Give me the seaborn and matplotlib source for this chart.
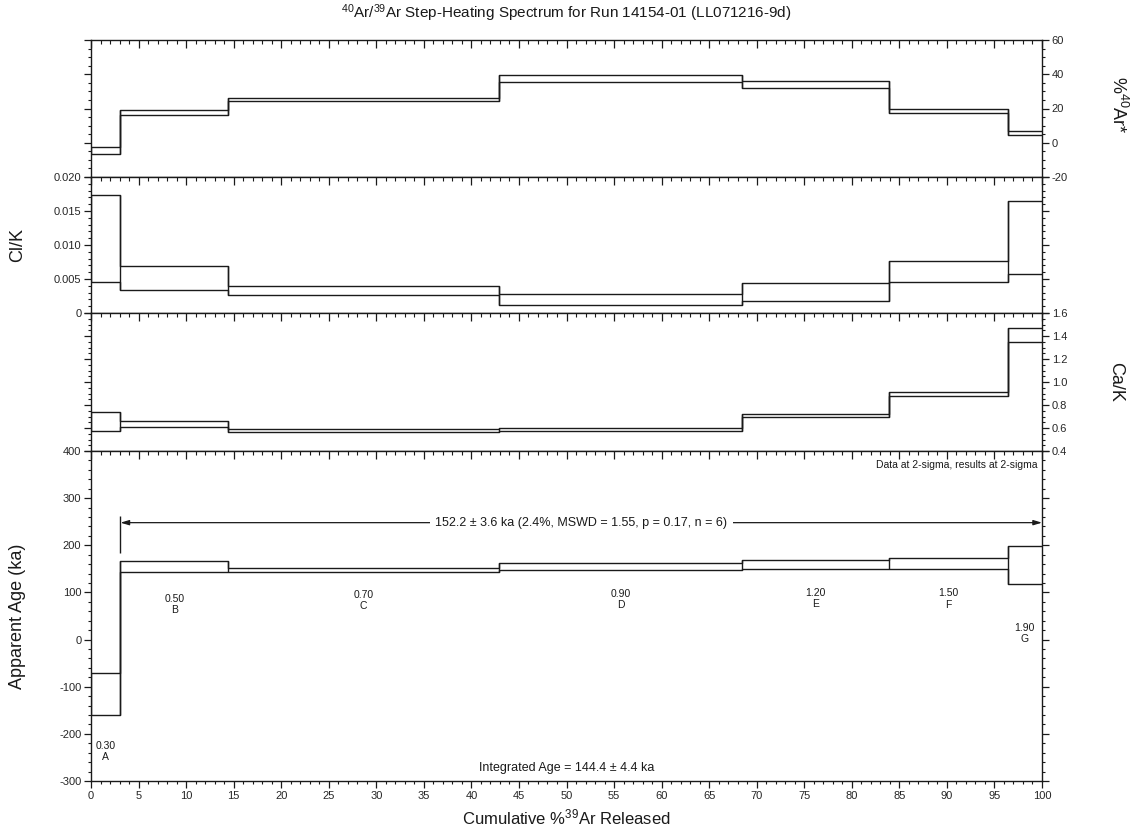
import numpy as np
import pandas as pd
import matplotlib
matplotlib.use("Agg")
import matplotlib.pyplot as plt
from matplotlib.ticker import MultipleLocator, FuncFormatter
import seaborn as sns

# ---------------- data ----------------
step_ids = ["A", "B", "C", "D", "E", "F", "G"]
step_power = ["0.30", "0.50", "0.70", "0.90", "1.20", "1.50", "1.90"]
cum_edges = [0.0, 3.1, 14.4, 42.9, 68.5, 83.9, 96.4, 100.0]

rad_hi = [-2.4, 18.9, 26.4, 39.8, 35.8, 19.6, 7.0]
rad_lo = [-6.3, 16.3, 24.2, 35.5, 32.2, 17.1, 4.3]

clk_hi = [0.0174, 0.00685, 0.00403, 0.00286, 0.00437, 0.00772, 0.0165]
clk_lo = [0.00455, 0.00335, 0.00267, 0.00117, 0.00170, 0.00456, 0.00568]

cak_hi = [0.737, 0.657, 0.590, 0.599, 0.725, 0.909, 1.468]
cak_lo = [0.578, 0.613, 0.566, 0.572, 0.693, 0.882, 1.350]

age_hi = [-70, 167, 152, 163, 168, 173, 198.5]
age_lo = [-161, 143, 143, 147, 149, 150, 117.6]

plateau_text = "152.2 \u00b1 3.6 ka (2.4%, MSWD = 1.55, p = 0.17, n = 6)"
integrated_text = "Integrated Age = 144.4 \u00b1 4.4 ka"
sigma_text = "Data at 2-sigma, results at 2-sigma"
title_text = r"$^{40}$Ar/$^{39}$Ar Step-Heating Spectrum for Run 14154-01 (LL071216-9d)"

# layout: how far (in ka) each step label sits below the step's lower edge
label_drop = [65, 56, 48, 50, 50, 52, 92]

# ---------------- style ----------------
sns.set_style("ticks")
plt.rcParams["font.family"] = ["Liberation Sans", "DejaVu Sans"]
plt.rcParams["mathtext.fontset"] = "custom"
plt.rcParams["mathtext.rm"] = "Liberation Sans"
plt.rcParams["mathtext.default"] = "regular"
plt.rcParams["axes.unicode_minus"] = False

LC = "#1a1a1a"
LW = 1.0

fig = plt.figure(figsize=(11.35, 8.31), dpi=100)
W, H = 1135.0, 831.0
xl, xr = 91.0, 1042.0


def rect(top, bot):
    return [xl / W, 1 - bot / H, (xr - xl) / W, (bot - top) / H]


ax_rad = fig.add_axes(rect(40, 177))
ax_clk = fig.add_axes(rect(177, 313))
ax_cak = fig.add_axes(rect(313, 451))
ax_age = fig.add_axes(rect(451, 781))


def draw_steps(ax, hi, lo):
    xs = list(cum_edges)
    for vals in (hi, lo):
        ys = list(vals) + [vals[-1]]
        sns.lineplot(x=xs, y=ys, ax=ax, drawstyle="steps-post", estimator=None,
                     sort=False, color=LC, lw=LW)
    vx, vmin, vmax = [xs[0]], [lo[0]], [hi[0]]
    for i in range(1, len(hi)):
        vx.append(xs[i])
        vmin.append(min(lo[i - 1], lo[i]))
        vmax.append(max(hi[i - 1], hi[i]))
    ax.vlines(vx, vmin, vmax, color=LC, lw=LW)


draw_steps(ax_rad, rad_hi, rad_lo)
draw_steps(ax_clk, clk_hi, clk_lo)
draw_steps(ax_cak, cak_hi, cak_lo)
draw_steps(ax_age, age_hi, age_lo)

ax_rad.set_ylim(-20, 60)
ax_clk.set_ylim(0, 0.020)
ax_cak.set_ylim(0.4, 1.6)
ax_age.set_ylim(-300, 400)

TICK_FS = 8
for ax in (ax_rad, ax_clk, ax_cak, ax_age):
    ax.set_xlim(0, 100)
    ax.set_xlabel("")
    ax.set_ylabel("")
    for s in ax.spines.values():
        s.set_visible(True)
        s.set_linewidth(1.0)
        s.set_color(LC)
    ax.xaxis.set_major_locator(MultipleLocator(5))
    ax.xaxis.set_minor_locator(MultipleLocator(1))
    ax.tick_params(axis="x", which="both", direction="in", top=True, bottom=False,
                   labelbottom=False, labeltop=False, color=LC)
    ax.tick_params(axis="x", which="major", length=6, width=0.9)
    ax.tick_params(axis="x", which="minor", length=3, width=0.8)
    ax.tick_params(axis="y", which="both", direction="out", left=True, right=True,
                   labelsize=TICK_FS, color=LC, pad=2)
    ax.tick_params(axis="y", which="major", length=5, width=0.9)
    ax.tick_params(axis="y", which="minor", length=2.5, width=0.8)
    ax.set_facecolor("white")

ax_rad.yaxis.set_major_locator(MultipleLocator(20))
ax_rad.yaxis.set_minor_locator(MultipleLocator(5))
ax_rad.tick_params(axis="y", labelleft=False, labelright=True)

ax_clk.yaxis.set_major_locator(MultipleLocator(0.005))
ax_clk.yaxis.set_minor_locator(MultipleLocator(0.001))
ax_clk.yaxis.set_major_formatter(FuncFormatter(lambda v, p: "0" if abs(v) < 1e-9 else f"{v:.3f}"))
ax_clk.tick_params(axis="y", labelleft=True, labelright=False)

ax_cak.yaxis.set_major_locator(MultipleLocator(0.2))
ax_cak.yaxis.set_minor_locator(MultipleLocator(0.05))
ax_cak.yaxis.set_major_formatter(FuncFormatter(lambda v, p: f"{v:.1f}"))
ax_cak.tick_params(axis="y", labelleft=False, labelright=True)

ax_age.yaxis.set_major_locator(MultipleLocator(100))
ax_age.yaxis.set_minor_locator(MultipleLocator(20))
ax_age.yaxis.set_major_formatter(FuncFormatter(lambda v, p: f"{v:.0f}"))
ax_age.tick_params(axis="y", labelleft=True, labelright=False)

sec = ax_age.secondary_xaxis("bottom")
sec.xaxis.set_major_locator(MultipleLocator(5))
sec.xaxis.set_minor_locator(MultipleLocator(1))
sec.tick_params(axis="x", which="both", direction="out", labelsize=TICK_FS, color=LC, pad=2)
sec.tick_params(axis="x", which="major", length=5, width=0.9)
sec.tick_params(axis="x", which="minor", length=2.5, width=0.8)
sec.xaxis.set_major_formatter(FuncFormatter(lambda v, p: f"{v:.0f}"))
sec.spines["bottom"].set_visible(False)

# step labels below each step in the age panel
for i, (sid, pw) in enumerate(zip(step_ids, step_power)):
    xc = (cum_edges[i] + cum_edges[i + 1]) / 2
    yl = age_lo[i] - label_drop[i]
    ax_age.text(xc, yl, pw, ha="center", va="center", fontsize=7.5, color=LC)
    ax_age.text(xc, yl - 24, sid, ha="center", va="center", fontsize=7.5, color=LC)

# plateau marker
px0 = cum_edges[1]
ax_age.vlines([px0], 184, 262, color=LC, lw=LW)
ax_age.annotate("", xy=(px0, 248), xytext=(100, 248),
                arrowprops=dict(arrowstyle="<|-|>,head_length=0.5,head_width=0.15",
                                color=LC, lw=0.9, shrinkA=0, shrinkB=0))
ax_age.text((px0 + 100) / 2, 248, plateau_text, ha="center", va="center", fontsize=9,
            color=LC, bbox=dict(facecolor="white", edgecolor="none", pad=4))
ax_age.text(50, -272, integrated_text, ha="center", va="center", fontsize=9, color=LC)
ax_age.text(99.5, 371, sigma_text, ha="right", va="center", fontsize=7.5, color=LC)

# axis titles
fig.text(0.5 * (xl + xr) / W, 1 - 13 / H, title_text, ha="center", va="center", fontsize=11, color=LC)
fig.text(0.5 * (xl + xr) / W, 1 - 817 / H, r"Cumulative %$^{39}$Ar Released", ha="center",
         va="center", fontsize=12, color=LC)
fig.text(18 / W, 1 - 245 / H, "Cl/K", rotation=90, ha="center", va="center", fontsize=13, color=LC)
fig.text(18 / W, 1 - 616 / H, "Apparent Age (ka)", rotation=90, ha="center", va="center",
         fontsize=13, color=LC)
fig.text(1116 / W, 1 - 382 / H, "Ca/K", rotation=270, ha="center", va="center", fontsize=13, color=LC)
fig.text(1118 / W, 1 - 105 / H, r"%$^{40}$Ar*", rotation=270, ha="center", va="center",
         fontsize=13, color=LC)

fig.savefig("out.png", dpi=100, facecolor="white")
